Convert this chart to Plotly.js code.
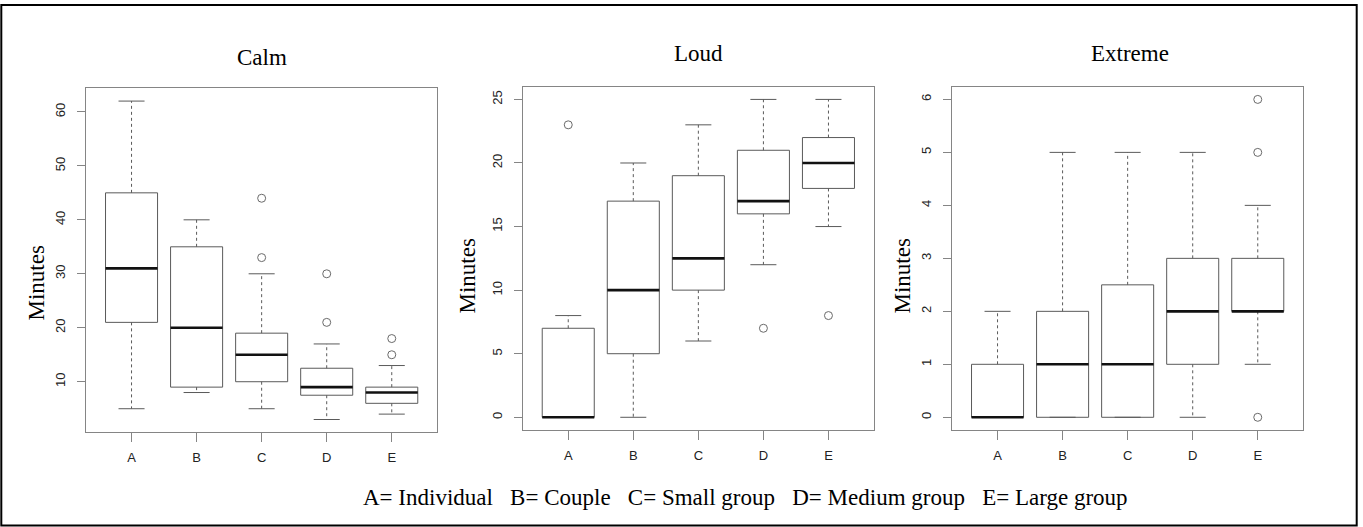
<!DOCTYPE html>
<html>
<head>
<meta charset="utf-8">
<script src="https://cdn.plot.ly/plotly-3.0.1.min.js"></script>
<style>
  html, body { margin: 0; padding: 0; background: #ffffff; }
  #chart { width: 1363px; height: 527px; }
</style>
</head>
<body>
<div id="chart"></div>
<script>
// ---------- DATA ----------
const categories = ['A', 'B', 'C', 'D', 'E'];
const panelTitles = ['Calm', 'Loud', 'Extreme'];
const yTitle = 'Minutes';
const caption = 'A= Individual   B= Couple   C= Small group   D= Medium group   E= Large group';

// Calm
const calmLow      = [5, 8, 5, 3, 4];
const calmQ1       = [21, 9, 10, 7.5, 6];
const calmMedian   = [31, 20, 15, 9, 8];
const calmQ3       = [45, 35, 19, 12.5, 9];
const calmHigh     = [62, 40, 30, 17, 13];
const calmOutliers = [[], [], [33, 44], [21, 30], [15, 18]];

// Loud
const loudLow      = [0, 0, 6, 12, 15];
const loudQ1       = [0, 5, 10, 16, 18];
const loudMedian   = [0, 10, 12.5, 17, 20];
const loudQ3       = [7, 17, 19, 21, 22];
const loudHigh     = [8, 20, 23, 25, 25];
const loudOutliers = [[23], [], [], [7], [8]];

// Extreme
const extremeLow      = [0, 0, 0, 0, 1];
const extremeQ1       = [0, 0, 0, 1, 2];
const extremeMedian   = [0, 1, 1, 2, 2];
const extremeQ3       = [1, 2, 2.5, 3, 3];
const extremeHigh     = [2, 5, 5, 5, 4];
const extremeOutliers = [[], [], [], [], [0, 5, 6]];

// ---------- STYLE / LAYOUT ----------
const W = 1363, H = 527;
const BOX_HALF = 0.4, STAPLE_HALF = 0.2;
const boxColor = '#5a5a5a';
const frameColor = '#858585';
const serif = 'Liberation Serif, Times New Roman, serif';
const sans = 'Liberation Sans, Arial, sans-serif';

// pixel geometry of each panel's plot box [left, right, top, bottom]
const panelPx = [
  [86, 437.3, 88.3, 432.3],
  [522.7, 874, 86.7, 430],
  [952, 1303.3, 86.7, 430]
];
const panelRanges = [[0.63, 64.37], [-1, 26], [-0.24, 6.24]];
const panelTick = [[10, 10], [0, 5], [0, 1]];
const titlePos = [[262, 57], [698.3, 53], [1129.7, 53]];
const yTitlePos = [[35.5, 283], [467, 276.5], [902, 276.5]];

const panels = [
  {low: calmLow, q1: calmQ1, med: calmMedian, q3: calmQ3, high: calmHigh, out: calmOutliers},
  {low: loudLow, q1: loudQ1, med: loudMedian, q3: loudQ3, high: loudHigh, out: loudOutliers},
  {low: extremeLow, q1: extremeQ1, med: extremeMedian, q3: extremeQ3, high: extremeHigh, out: extremeOutliers}
];

const traces = [];
const layout = {
  width: W, height: H,
  margin: {l: 0, r: 0, t: 0, b: 0},
  paper_bgcolor: '#ffffff',
  plot_bgcolor: '#ffffff',
  showlegend: false,
  annotations: [],
  shapes: [{
    type: 'rect', xref: 'paper', yref: 'paper',
    x0: 1.3 / W, x1: 1356.7 / W, y0: (H - 525.5) / H, y1: (H - 5) / H,
    line: {color: '#000000', width: 2}, fillcolor: 'rgba(0,0,0,0)'
  }]
};

panels.forEach((p, k) => {
  const xa = k === 0 ? 'x' : 'x' + (k + 1);
  const ya = k === 0 ? 'y' : 'y' + (k + 1);
  const wx = [], wy = [], sx = [], sy = [], bx = [], by = [], mx = [], my = [], ox = [], oy = [];
  categories.forEach((c, i) => {
    const pos = i + 1;
    // whiskers
    wx.push(pos, pos, null, pos, pos, null);
    wy.push(p.q3[i], p.high[i], null, p.q1[i], p.low[i], null);
    // staples
    sx.push(pos - STAPLE_HALF, pos + STAPLE_HALF, null, pos - STAPLE_HALF, pos + STAPLE_HALF, null);
    sy.push(p.high[i], p.high[i], null, p.low[i], p.low[i], null);
    // box
    bx.push(pos - BOX_HALF, pos + BOX_HALF, pos + BOX_HALF, pos - BOX_HALF, pos - BOX_HALF, null);
    by.push(p.q1[i], p.q1[i], p.q3[i], p.q3[i], p.q1[i], null);
    // median
    mx.push(pos - BOX_HALF, pos + BOX_HALF, null);
    my.push(p.med[i], p.med[i], null);
    // outliers
    p.out[i].forEach(v => { ox.push(pos); oy.push(v); });
  });
  const base = {type: 'scatter', mode: 'lines', xaxis: xa, yaxis: ya, hoverinfo: 'skip', cliponaxis: false};
  traces.push(Object.assign({}, base, {x: wx, y: wy, line: {color: boxColor, width: 1, dash: '3px,3px'}}));
  traces.push(Object.assign({}, base, {x: sx, y: sy, line: {color: boxColor, width: 1}}));
  traces.push(Object.assign({}, base, {x: bx, y: by, line: {color: boxColor, width: 1}}));
  traces.push(Object.assign({}, base, {x: mx, y: my, line: {color: '#111111', width: 2.6}}));
  traces.push({type: 'scatter', mode: 'markers', xaxis: xa, yaxis: ya, x: ox, y: oy, hoverinfo: 'skip',
    marker: {symbol: 'circle-open', size: 8, color: '#6a6a6a', line: {width: 1, color: '#6a6a6a'}}});

  const px = panelPx[k];
  const xKey = k === 0 ? 'xaxis' : 'xaxis' + (k + 1);
  const yKey = k === 0 ? 'yaxis' : 'yaxis' + (k + 1);
  layout[xKey] = {
    domain: [px[0] / W, px[1] / W], anchor: ya,
    range: [0.3, 5.7], tickmode: 'array', tickvals: [1, 2, 3, 4, 5], ticktext: categories,
    ticks: 'outside', ticklen: 9, tickwidth: 1, tickcolor: frameColor,
    showline: true, mirror: true, linecolor: frameColor, linewidth: 1,
    showgrid: false, zeroline: false, fixedrange: true,
    ticklabelstandoff: 4,
    tickfont: {family: sans, size: 13, color: '#222222'}
  };
  layout[yKey] = {
    domain: [(H - px[3]) / H, (H - px[2]) / H], anchor: xa,
    range: panelRanges[k], tickmode: 'linear', tick0: panelTick[k][0], dtick: panelTick[k][1],
    ticks: 'outside', ticklen: 8, tickwidth: 1, tickcolor: frameColor, tickangle: -90,
    showline: true, mirror: true, linecolor: frameColor, linewidth: 1,
    showgrid: false, zeroline: false, fixedrange: true,
    ticklabelstandoff: 7,
    tickfont: {family: sans, size: 13, color: '#222222'}
  };
  layout.annotations.push({
    xref: 'paper', yref: 'paper', x: titlePos[k][0] / W, y: (H - titlePos[k][1]) / H,
    xanchor: 'center', yanchor: 'middle', showarrow: false, text: panelTitles[k],
    font: {family: serif, size: 23, color: '#000000'}
  });
  layout.annotations.push({
    xref: 'paper', yref: 'paper', x: yTitlePos[k][0] / W, y: (H - yTitlePos[k][1]) / H,
    xanchor: 'center', yanchor: 'middle', showarrow: false, text: yTitle, textangle: -90,
    font: {family: serif, size: 23, color: '#000000'}
  });
});

layout.annotations.push({
  xref: 'paper', yref: 'paper', x: 745.5 / W, y: (H - 497) / H,
  xanchor: 'center', yanchor: 'middle', showarrow: false,
  text: caption.replace(/ /g, '\u00a0'),
  font: {family: serif, size: 23, color: '#000000'}
});

Plotly.newPlot('chart', traces, layout, {displayModeBar: false, staticPlot: true});
</script>
</body>
</html>
